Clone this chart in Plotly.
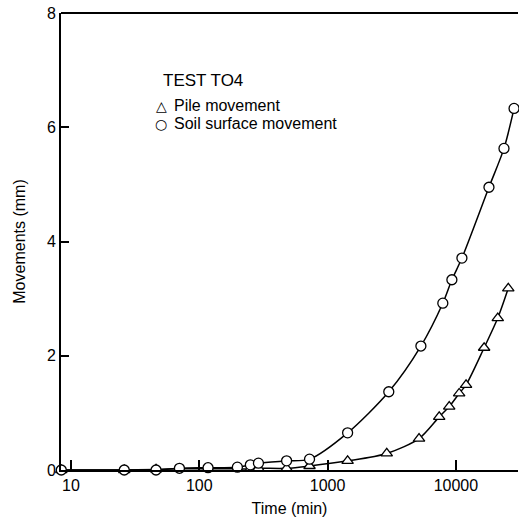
import plotly.graph_objects as go

# Data
pile_time = [8.4, 26, 46, 70, 117, 198, 250, 289, 479, 723, 1432, 2890,
             5160, 7410, 8870, 10600, 12000, 16600, 21200, 25600]
pile_mm = [0.0, 0.0, 0.01, 0.02, 0.02, 0.02, 0.02, 0.03, 0.03, 0.07, 0.16, 0.29,
           0.55, 0.93, 1.11, 1.34, 1.49, 2.14, 2.66, 3.18]

soil_time = [8.4, 26, 46, 70, 117, 198, 250, 289, 479, 723, 1432, 2998,
             5335, 7907, 9305, 11140, 18100, 23700, 28400]
soil_mm = [0.0, 0.0, 0.0, 0.03, 0.04, 0.05, 0.09, 0.12, 0.16, 0.19, 0.65, 1.37,
           2.17, 2.92, 3.33, 3.71, 4.95, 5.63, 6.33]

x_ticks = [10, 100, 1000, 10000]
x_tick_labels = ["10", "100", "1000", "10000"]
y_ticks = [0, 2, 4, 6, 8]

FONT = "Liberation Sans, Arial, sans-serif"

fig = go.Figure()
fig.add_trace(go.Scatter(
    x=pile_time, y=pile_mm, mode="lines+markers", name="Pile movement",
    line=dict(color="black", width=1.5, shape="spline", smoothing=0.8),
    marker=dict(symbol="triangle-up", size=10, color="white",
                line=dict(color="black", width=1.3)),
    cliponaxis=False, showlegend=False))
fig.add_trace(go.Scatter(
    x=soil_time, y=soil_mm, mode="lines+markers", name="Soil surface movement",
    line=dict(color="black", width=1.5, shape="spline", smoothing=0.8),
    marker=dict(symbol="circle", size=10, color="white",
                line=dict(color="black", width=1.3)),
    cliponaxis=False, showlegend=False))

fig.update_layout(
    width=519, height=521,
    margin=dict(l=61, r=1, t=13, b=51),
    paper_bgcolor="white", plot_bgcolor="white",
    font=dict(family=FONT, size=16, color="black"),
    showlegend=False,
)
fig.update_xaxes(
    type="log", range=[0.922, 4.484],
    tickvals=x_ticks, ticktext=x_tick_labels,
    ticks="inside", ticklen=10, tickwidth=1.5, tickcolor="black",
    showline=True, linecolor="black", linewidth=2, mirror=False,
    showgrid=False, zeroline=False,
    tickfont=dict(size=16),
    title=dict(text="Time (min)", font=dict(size=16), standoff=10),
)
fig.update_yaxes(
    range=[0, 8], tickvals=y_ticks,
    ticks="inside", ticklen=8, tickwidth=1.5, tickcolor="black",
    showline=True, linecolor="black", linewidth=2,
    showgrid=False, zeroline=False,
    tickfont=dict(size=16),
    title=dict(text="Movements (mm)", font=dict(size=16), standoff=17),
)
# top frame line
fig.add_shape(type="line", xref="paper", yref="paper", x0=0, x1=1, y0=1, y1=1,
              line=dict(color="black", width=2))

# legend block as text
def px_x(px):
    return (px - 61) / (518 - 61)

def px_y(py):
    return (470 - py) / (470 - 13)

fig.add_annotation(text="TEST TO4", xref="paper", yref="paper",
                   x=px_x(161), y=px_y(80), xanchor="left", yanchor="middle",
                   showarrow=False, font=dict(size=17))
fig.add_annotation(text="△", xref="paper", yref="paper",
                   x=px_x(161), y=px_y(105.5), xanchor="center", yanchor="middle",
                   showarrow=False, font=dict(size=14, family="DejaVu Sans"))
fig.add_annotation(text="○", xref="paper", yref="paper",
                   x=px_x(161), y=px_y(123.5), xanchor="center", yanchor="middle",
                   showarrow=False, font=dict(size=14, family="DejaVu Sans"))
fig.add_annotation(text="Pile movement", xref="paper", yref="paper",
                   x=px_x(172), y=px_y(105.5), xanchor="left", yanchor="middle",
                   showarrow=False, font=dict(size=16))
fig.add_annotation(text="Soil surface movement", xref="paper", yref="paper",
                   x=px_x(172), y=px_y(123.5), xanchor="left", yanchor="middle",
                   showarrow=False, font=dict(size=16))

fig.write_html("out.html")
